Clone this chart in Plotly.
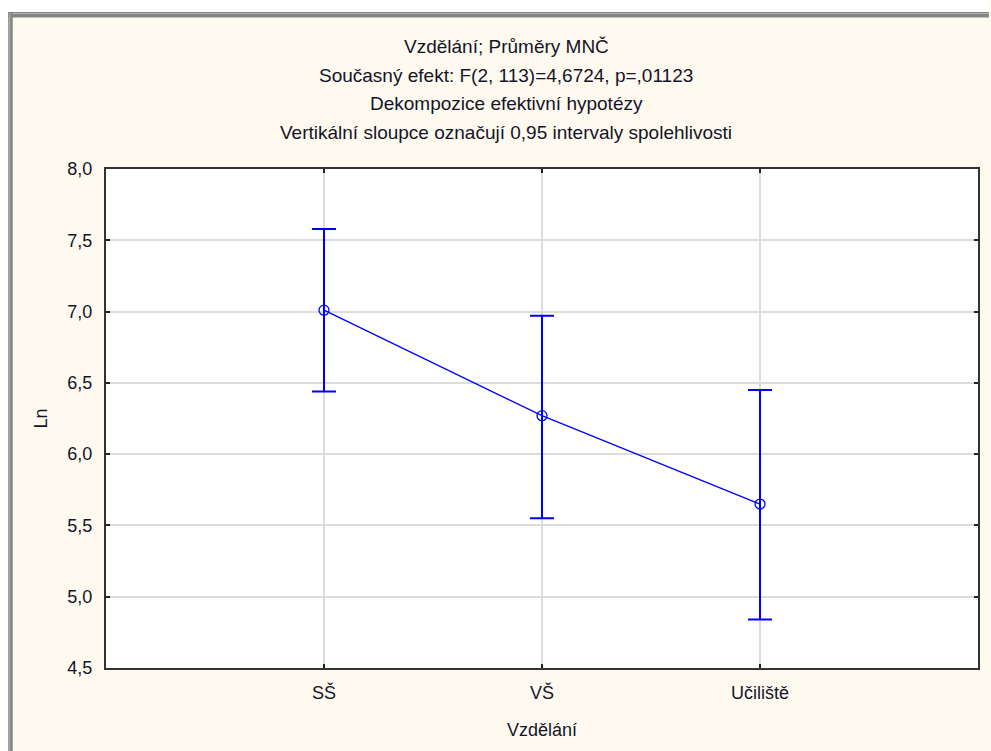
import plotly.graph_objects as go

categories = ["SŠ", "VŠ", "Učiliště"]
means = [7.01, 6.27, 5.65]
upper = [7.58, 6.97, 6.45]
lower = [6.44, 5.55, 4.84]
y_ticks = [4.5, 5.0, 5.5, 6.0, 6.5, 7.0, 7.5, 8.0]
y_tick_labels = ["4,5", "5,0", "5,5", "6,0", "6,5", "7,0", "7,5", "8,0"]
title_lines = [
    "Vzdělání; Průměry MNČ",
    "Současný efekt: F(2, 113)=4,6724, p=,01123",
    "Dekompozice efektivní hypotézy",
    "Vertikální sloupce označují 0,95 intervaly spolehlivosti",
]

W, H = 991, 751
ML, MR, MT, MB = 106, 11, 169, 83
PW, PH = W - ML - MR, H - MT - MB


def px(x):
    return (x - ML) / PW


def py(y):
    return (H - MB - y) / PH


FONT = "Liberation Sans, Arial, sans-serif"
TXT = "#141428"
BLUE = "#0000FF"
BG = "#FFFAF0"

err_plus = [u - m for u, m in zip(upper, means)]
err_minus = [m - l for m, l in zip(means, lower)]

fig = go.Figure()
fig.add_trace(go.Scatter(
    x=list(range(len(categories))),
    y=means,
    mode="lines+markers",
    line=dict(color=BLUE, width=1.3),
    marker=dict(symbol="circle-open", size=10, color=BLUE, line=dict(width=1.3, color=BLUE)),
    error_y=dict(type="data", symmetric=False, array=err_plus, arrayminus=err_minus,
                 color=BLUE, thickness=2, width=12),
    showlegend=False,
))

shapes = [
    dict(type="rect", xref="paper", yref="paper", x0=px(0), x1=px(W), y0=py(0), y1=py(12),
         fillcolor="white", line=dict(width=0), layer="below"),
    dict(type="rect", xref="paper", yref="paper", x0=px(0), x1=px(8), y0=py(0), y1=py(H),
         fillcolor="white", line=dict(width=0), layer="below"),
    dict(type="rect", xref="paper", yref="paper", x0=px(8), x1=px(W), y0=py(12), y1=py(17.5),
         fillcolor="#858585", line=dict(width=0), layer="below"),
    dict(type="rect", xref="paper", yref="paper", x0=px(11), x1=px(W), y0=py(13), y1=py(14),
         fillcolor="#b4b4b4", line=dict(width=0), layer="below"),
    dict(type="rect", xref="paper", yref="paper", x0=px(8), x1=px(12.5), y0=py(12), y1=py(H),
         fillcolor="#858585", line=dict(width=0), layer="below"),
    dict(type="rect", xref="paper", yref="paper", x0=px(9), x1=px(10), y0=py(13), y1=py(H),
         fillcolor="#b4b4b4", line=dict(width=0), layer="below"),
]

annotations = []
for i, t in enumerate(title_lines):
    annotations.append(dict(
        text=t, xref="paper", yref="paper", x=px(507), y=py(47 + i * 28.5),
        xanchor="center", yanchor="middle", showarrow=False,
        font=dict(family=FONT, size=19, color=TXT),
    ))

fig.update_layout(
    width=W, height=H,
    margin=dict(l=ML, r=MR, t=MT, b=MB),
    paper_bgcolor=BG,
    plot_bgcolor="white",
    font=dict(family=FONT, size=18, color=TXT),
    shapes=shapes,
    annotations=annotations,
    xaxis=dict(
        range=[-1, 3],
        tickvals=list(range(len(categories))),
        ticktext=categories,
        showgrid=True, gridcolor="#dcdcdc", gridwidth=2,
        showline=True, linecolor="#333333", linewidth=2, mirror="ticks",
        ticks="inside", ticklen=4, tickcolor="#222222", tickwidth=2,
        zeroline=False,
        tickfont=dict(family=FONT, size=18, color=TXT),
        ticklabelstandoff=7,
        title=dict(text="Vzdělání", font=dict(family=FONT, size=18, color=TXT), standoff=22),
    ),
    yaxis=dict(
        range=[4.5, 8.0],
        tickvals=y_ticks,
        ticktext=y_tick_labels,
        showgrid=True, gridcolor="#dcdcdc", gridwidth=2,
        showline=True, linecolor="#333333", linewidth=2, mirror="ticks",
        ticks="inside", ticklen=4, tickcolor="#222222", tickwidth=2,
        zeroline=False,
        tickfont=dict(family=FONT, size=18, color=TXT),
        ticklabelstandoff=8,
        title=dict(text="Ln", font=dict(family=FONT, size=18, color=TXT), standoff=15),
    ),
)

fig.write_html("out.html")
